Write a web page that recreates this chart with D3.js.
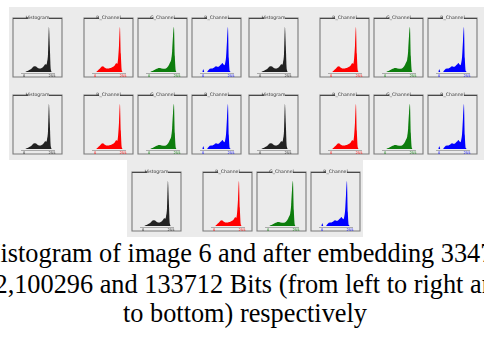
<!DOCTYPE html>
<html>
<head>
<meta charset="utf-8">
<script src="https://cdn.jsdelivr.net/npm/d3@7"></script>
<style>
  body { margin: 0; background: #fff; }
  svg { display: block; }
  .caption { font-family: 'Liberation Serif', 'Times New Roman', serif; font-size: 26.3px; }
</style>
</head>
<body>
<div id="chart"></div>
<script>
// histogram bins: 32 bins over 0..255, relative counts (peak = 100)
const binEdges = d3.range(32).map(i => i * 8 + 4);
const grayCounts = [0, 0, 0, 1, 2, 3, 4, 5, 6, 8, 10, 12, 13, 13, 12, 10, 9, 8, 8, 8, 9, 10, 12, 15, 18, 16, 22, 40, 100, 55, 6, 0];
const redCounts = [0, 0, 0, 2, 4, 6, 8, 10, 12, 13, 12, 10, 9, 8, 8, 8, 8, 9, 9, 10, 11, 12, 14, 17, 20, 18, 30, 60, 100, 40, 4, 0];
const greenCounts = [0, 0, 0, 1, 2, 3, 4, 5, 6, 7, 8, 9, 9, 9, 8, 8, 7, 7, 7, 8, 9, 11, 14, 18, 22, 28, 45, 80, 100, 35, 3, 0];
const blueCounts = [0, 6, 0, 0, 0, 0, 3, 5, 7, 8, 8, 8, 9, 10, 12, 13, 12, 11, 12, 14, 16, 18, 20, 17, 15, 20, 35, 70, 100, 30, 2, 0];

const channels = ['Histogram', 'R_Channel', 'G_Channel', 'B_Channel'];
const channelCounts = [grayCounts, redCounts, greenCounts, blueCounts];
const channelColors = ['#222222', '#ff0000', '#0a7d0a', '#0000ff'];
const tickLabels = ['0', '255'];

// original image + four embedding payloads
const images = ['image 6', '33472', '66872', '100296', '133712'];

const captionLines = [
  'Histogram of image 6 and after embedding 3347',
  '2,100296 and 133712 Bits (from left to right and top',
  'to bottom) respectively'
];

const width = 484, height = 337;
const svg = d3.select('#chart').append('svg')
  .attr('width', width)
  .attr('height', height);

const defs = svg.append('defs');
defs.append('filter').attr('id', 'soft')
  .append('feGaussianBlur').attr('stdDeviation', 0.35);

// gray screenshot backgrounds
svg.append('rect').attr('x', 9).attr('y', 7).attr('width', 475).attr('height', 153).attr('fill', '#ebebeb');
svg.append('rect').attr('x', 127).attr('y', 160).attr('width', 236).attr('height', 77).attr('fill', '#ebebeb');

// where each image's group of 4 panels goes
const groupPos = [
  { x: 13, y: 18 }, { x: 249, y: 18 },
  { x: 13, y: 95 }, { x: 249, y: 95 },
  { x: 132, y: 172 }
];
const panelOffsets = [0, 71, 125, 179];
const pw = 49, ph = 59;

const x = d3.scaleLinear().domain([0, 255]).range([10, 39]);
const y = d3.scaleLinear().domain([0, 100]).range([54, 9]);

const area = d3.area()
  .x((d, i) => x(binEdges[i]))
  .y0(y(0))
  .y1(d => y(d))
  .curve(d3.curveMonotoneX);

const panels = svg.append('g').attr('filter', 'url(#soft)');

images.forEach((img, gi) => {
  const gp = groupPos[gi];
  channels.forEach((name, ci) => {
    const g = panels.append('g')
      .attr('transform', `translate(${gp.x + panelOffsets[ci]},${gp.y})`);

    // group-box frame with a gap for the title
    g.append('path')
      .attr('d', `M15,0 H0 V${ph} H${pw} V0 H${pw - 13}`)
      .attr('fill', 'none')
      .attr('stroke', '#7a7a7a')
      .attr('stroke-width', 1.1);
    g.append('path')
      .attr('d', `M0,0.5 H15 M${pw - 13},0.5 H${pw}`)
      .attr('stroke', '#4a4a4a')
      .attr('stroke-width', 1);

    g.append('text')
      .attr('x', pw / 2)
      .attr('y', 1)
      .attr('text-anchor', 'middle')
      .attr('font-family', 'DejaVu Sans, sans-serif')
      .attr('font-size', 4.6)
      .attr('fill', '#333')
      .text(name);

    g.append('path')
      .datum(channelCounts[ci])
      .attr('d', area)
      .attr('fill', channelColors[ci]);

    // axis baseline
    g.append('line')
      .attr('x1', 8).attr('x2', 42)
      .attr('y1', 55.5).attr('y2', 55.5)
      .attr('stroke', '#9a9a9a')
      .attr('stroke-width', 0.8);

    g.selectAll('text.tick')
      .data(tickLabels)
      .enter().append('text')
      .attr('class', 'tick')
      .attr('x', (d, i) => i === 0 ? x(0) : x(255))
      .attr('y', 58.5)
      .attr('text-anchor', (d, i) => i === 0 ? 'start' : 'middle')
      .attr('font-family', 'DejaVu Sans, sans-serif')
      .attr('font-size', 3.6)
      .attr('fill', channelColors[ci])
      .text(d => d);
  });
});

// caption (cropped at both sides like the source)
const cap = svg.append('g')
  .attr('class', 'caption')
  .attr('fill', '#000');

const probe = cap.append('text').text('H');
const hWidth = probe.node().getComputedTextLength();
probe.remove();

cap.append('text').attr('x', 0.5 - hWidth).attr('y', 262).text(captionLines[0]);
cap.append('text').attr('x', -5.5).attr('y', 293).text(captionLines[1]);
cap.append('text').attr('x', 245).attr('y', 322).attr('text-anchor', 'middle').text(captionLines[2]);
</script>
</body>
</html>
